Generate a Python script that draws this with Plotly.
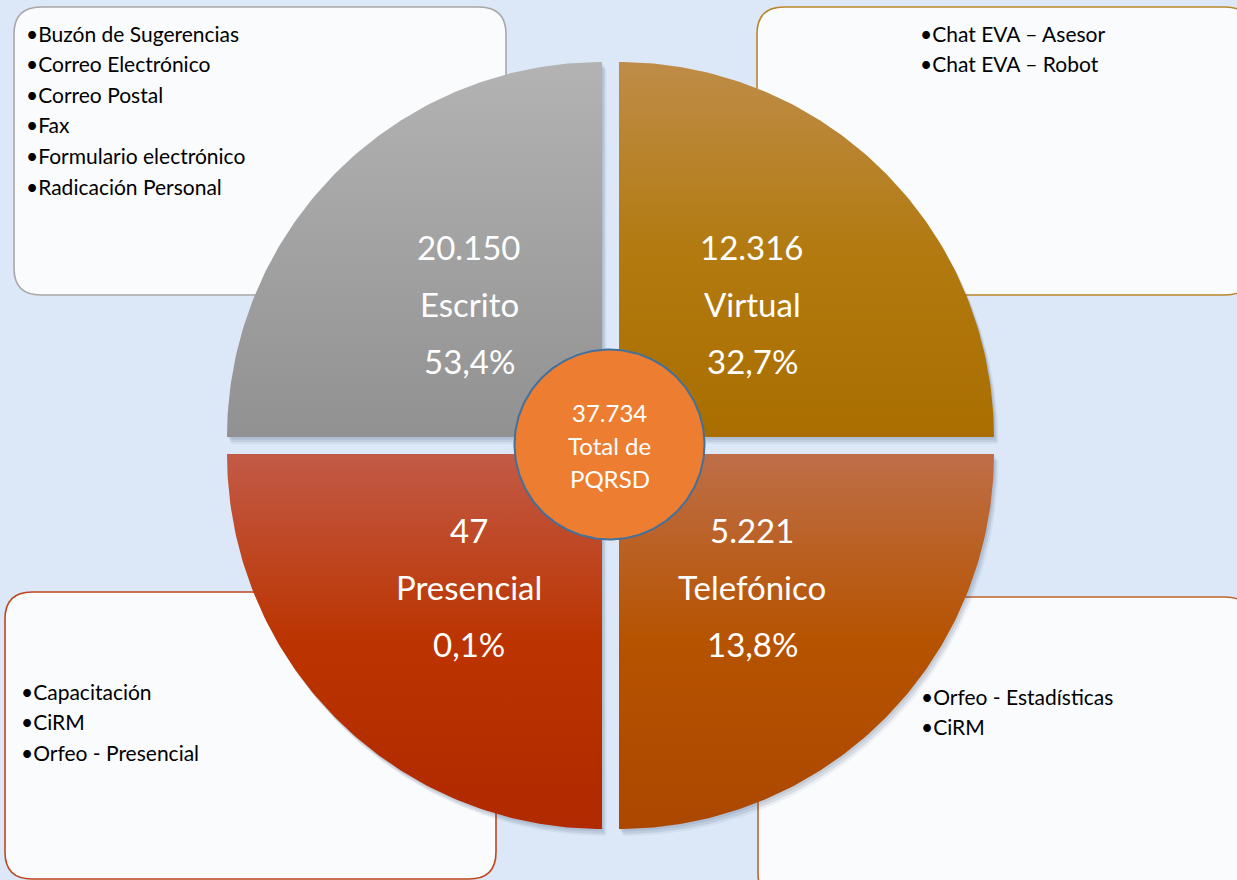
import numpy as np
import plotly.graph_objects as go

# ---------------- data ----------------
categories = ["Escrito", "Virtual", "Presencial", "Telefónico"]
counts = [20150, 12316, 47, 5221]
percent_labels = ["53,4%", "32,7%", "0,1%", "13,8%"]
total_count = 37734
total_caption = ["Total de", "PQRSD"]
channel_items = [
    ["Buzón de Sugerencias", "Correo Electrónico", "Correo Postal", "Fax",
     "Formulario electrónico", "Radicación Personal"],
    ["Chat EVA – Asesor", "Chat EVA – Robot"],
    ["Capacitación", "CiRM", "Orfeo - Presencial"],
    ["Orfeo - Estadísticas", "CiRM"],
]

# ---------------- styles / layout ----------------
W, H = 1237, 880
BG = "#DCE8F7"
FONT = "Lato, 'Open Sans', sans-serif"
R = 375
# quadrant corner positions and directions (sx, sy) ; y grows downward
quad_corner = [(602, 437), (619, 437), (602, 454), (619, 454)]
quad_dir = [(-1, -1), (1, -1), (-1, 1), (1, 1)]
quad_scales = [
    [[0, "#B3B3B3"], [0.5, "#A2A2A2"], [1, "#919191"]],
    [[0, "#BF8C48"], [0.5, "#B27A10"], [1, "#AA6E00"]],
    [[0, "#C25A47"], [0.5, "#BB3400"], [1, "#B02900"]],
    [[0, "#BE6E48"], [0.5, "#B65300"], [1, "#AC4700"]],
]
box_rects = [(14, 7, 506, 295), (757, 7, 1252, 295), (5, 592, 496, 879), (758, 597, 1252, 900)]
box_borders = ["#A8A8A8", "#B8862B", "#C0461E", "#C0652E"]
box_text_pos = [(24, 33, "left"), (918, 33, "left"), (19, 691, "left"), (919, 696, "left")]
LINE_STEP = 30.6
LABEL_OFF = 133
LABEL_STEP = 57


def fmt_thousands(v):
    return f"{v:,}".replace(",", ".")


def quadrant_polygon(cx, cy, sx, sy, r, n=120):
    t = np.linspace(0, np.pi / 2, n)
    ax = cx + sx * r * np.sin(t)
    ay = cy + sy * r * np.cos(t)
    xs = np.concatenate([[cx], ax, [cx]])
    ys = np.concatenate([[cy], ay, [cy]])
    return xs, ys


def rounded_rect(x0, y0, x1, y1, r):
    return (f"M {x0 + r},{y0} L {x1 - r},{y0} Q {x1},{y0} {x1},{y0 + r} "
            f"L {x1},{y1 - r} Q {x1},{y1} {x1 - r},{y1} L {x0 + r},{y1} "
            f"Q {x0},{y1} {x0},{y1 - r} L {x0},{y0 + r} Q {x0},{y0} {x0 + r},{y0} Z")


fig = go.Figure()

# background boxes
shapes = []
for (x0, y0, x1, y1), bc in zip(box_rects, box_borders):
    shapes.append(dict(type="path", path=rounded_rect(x0, y0, x1, y1, 27),
                       xref="x", yref="y", layer="below",
                       fillcolor="#FAFBFD", line=dict(color=bc, width=1.6)))

# quadrant shadows
for (cx, cy), (sx, sy) in zip(quad_corner, quad_dir):
    for dx, dy, a in [(1.5, 2.5, 0.10), (3, 5, 0.10), (4.5, 7, 0.06)]:
        xs, ys = quadrant_polygon(cx, cy, sx, sy, R)
        fig.add_trace(go.Scatter(x=xs + dx, y=ys + dy, mode="lines", fill="toself",
                                 fillcolor=f"rgba(40,60,95,{a})", line=dict(width=0),
                                 hoverinfo="skip", showlegend=False))

# quadrants
for i, ((cx, cy), (sx, sy)) in enumerate(zip(quad_corner, quad_dir)):
    xs, ys = quadrant_polygon(cx, cy, sx, sy, R)
    top = cy - R if sy < 0 else cy
    bot = cy if sy < 0 else cy + R
    fig.add_trace(go.Scatter(
        x=xs, y=ys, mode="lines", fill="toself",
        fillgradient=dict(type="vertical", colorscale=quad_scales[i], start=top, stop=bot),
        line=dict(width=0), name=categories[i],
        hovertext=f"{categories[i]}: {fmt_thousands(counts[i])}", hoverinfo="text",
        showlegend=False))

# center circle
ccx, ccy, cr = 609.5, 444.5, 95
t = np.linspace(0, 2 * np.pi, 241)
fig.add_trace(go.Scatter(x=ccx + cr * np.cos(t), y=ccy + cr * np.sin(t), mode="lines",
                         fill="toself", fillcolor="#ED7D31",
                         line=dict(color="#41719C", width=2),
                         hoverinfo="skip", showlegend=False))

annotations = []
center_lines = [fmt_thousands(total_count)] + total_caption
for k, txt in enumerate(center_lines):
    annotations.append(dict(x=ccx, y=ccy - 32 + 33 * k, text=txt, showarrow=False,
                            xref="x", yref="y", xanchor="center", yanchor="middle",
                            font=dict(family=FONT, size=24, color="white")))

# quadrant labels
for i, ((cx, cy), (sx, sy)) in enumerate(zip(quad_corner, quad_dir)):
    lx = cx + sx * LABEL_OFF
    ly = cy + sy * LABEL_OFF
    lines = [fmt_thousands(counts[i]), categories[i], percent_labels[i]]
    for k, txt in enumerate(lines):
        annotations.append(dict(x=lx, y=ly + (k - 1) * LABEL_STEP, text=txt, showarrow=False,
                                xref="x", yref="y", xanchor="center", yanchor="middle",
                                font=dict(family=FONT, size=33, color="white")))

# box bullet lists
for items, (bx, by, anc) in zip(channel_items, box_text_pos):
    for k, txt in enumerate(items):
        annotations.append(dict(x=bx, y=by + k * LINE_STEP, text="•" + txt, showarrow=False,
                                xref="x", yref="y", xanchor=anc, yanchor="middle",
                                font=dict(family=FONT, size=21, color="black")))

fig.update_layout(
    width=W, height=H, margin=dict(l=0, r=0, t=0, b=0),
    paper_bgcolor=BG, plot_bgcolor=BG,
    xaxis=dict(range=[0, W], visible=False, fixedrange=True),
    yaxis=dict(range=[H, 0], visible=False, fixedrange=True),
    shapes=shapes, annotations=annotations, showlegend=False,
)

fig.write_html("out.html", config={"displayModeBar": False},
               post_script="document.body.style.margin='0';document.body.style.overflow='hidden';")
